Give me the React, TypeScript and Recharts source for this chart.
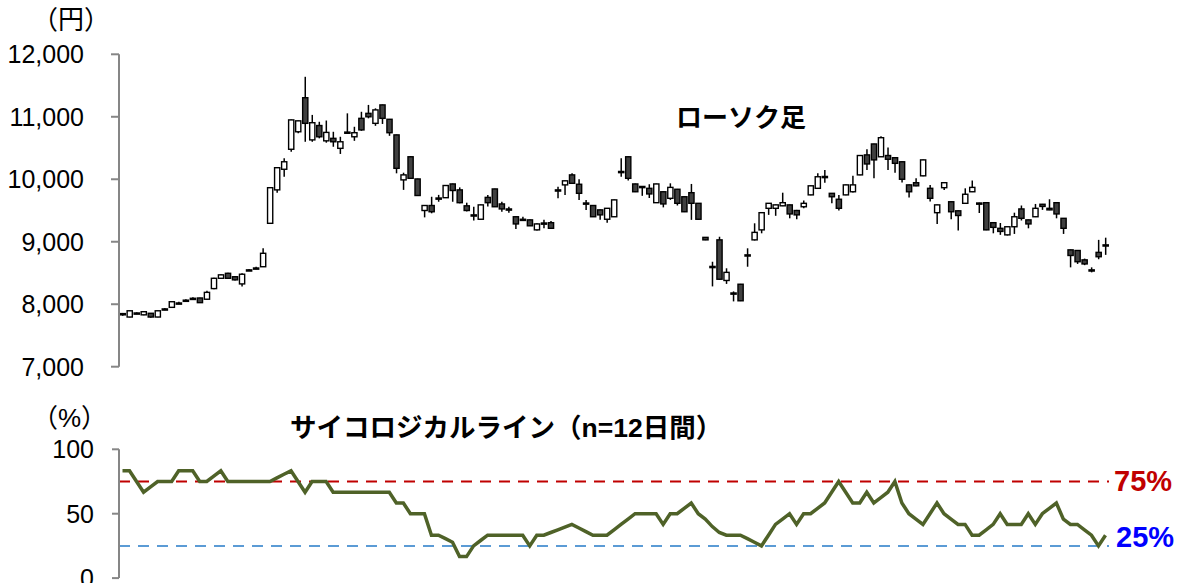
import { Bar, ComposedChart, Line, LineChart, ReferenceLine, XAxis, YAxis } from "recharts";

const FONT = "'Liberation Sans', 'Noto Sans CJK JP', sans-serif";

// daily candles (yen)
const opens = [
  7850, 7795, 7855, 7830, 7855, 7795, 7915, 7950, 8010, 8050, 8085, 8100, 8080, 8250, 8415, 8495, 8440, 8325, 8545, 8570,
  8600, 9295, 9830, 10160, 10480, 10760, 11305, 10630, 10860, 10615, 10655, 10495, 10745, 10680, 10975, 11055, 10895, 11190, 10960, 10710,
  9990, 10360, 10005, 9500, 9580, 9690, 9705, 9925, 9830, 9575, 9420, 9360, 9710, 9845, 9605, 9520, 9400, 9355, 9350, 9190,
  9290, 9305, 9825, 9910, 10070, 9920, 9615, 9580, 9510, 9360, 9400, 10120, 10360, 9925, 9880, 9855, 9625, 9800, 9695, 9840,
  9720, 9785, 9615, 9070, 8600, 9030, 8380, 8175, 8320, 8785, 9030, 9190, 9535, 9535, 9575, 9590, 9500, 9560, 9750, 9855,
  10040, 9775, 9680, 9750, 9800, 10070, 10390, 10565, 10360, 10380, 10345, 10280, 9910, 9945, 10055, 9855, 9465, 9865, 9640, 9495,
  9615, 9800, 9615, 9625, 9305, 9215, 9110, 9240, 9525, 9350, 9400, 9600, 9535, 9625, 9375, 8870, 8860, 8710, 8545, 8830,
  8945,
];
const highs = [
  7860, 7900, 7870, 7890, 7860, 7900, 7940, 8050, 8040, 8080, 8110, 8105, 8215, 8425, 8480, 8505, 8450, 8495, 8565, 8600,
  8895, 9870, 10190, 10335, 10955, 10940, 11640, 11030, 10920, 10940, 10760, 10680, 11055, 10840, 11080, 11190, 11135, 11195, 10965, 10715,
  10105, 10370, 10010, 9585, 9720, 9750, 9905, 9930, 9870, 9625, 9560, 9595, 9750, 9850, 9640, 9560, 9405, 9400, 9355, 9295,
  9350, 9330, 9880, 9980, 10095, 10000, 9670, 9585, 9515, 9540, 9675, 10335, 10365, 9930, 9890, 9920, 9930, 9805, 9935, 9845,
  9725, 9925, 9620, 9075, 8680, 9080, 8575, 8205, 8325, 8895, 9295, 9470, 9620, 9595, 9785, 9595, 9510, 9660, 9900, 10095,
  10150, 9780, 9750, 9915, 10055, 10385, 10480, 10570, 10690, 10510, 10350, 10285, 9915, 10015, 10315, 9910, 9595, 9950, 9645, 9500,
  9855, 9980, 9625, 9630, 9310, 9300, 9245, 9465, 9580, 9355, 9605, 9605, 9680, 9630, 9380, 8875, 8865, 8730, 8590, 9030,
  9065,
];
const lows = [
  7815, 7790, 7840, 7825, 7785, 7790, 7905, 7945, 8000, 8040, 8075, 8020, 8070, 8240, 8410, 8405, 8380, 8285, 8535, 8560,
  8595, 9290, 9785, 10040, 10440, 10735, 10600, 10600, 10655, 10585, 10520, 10405, 10725, 10615, 10775, 10975, 10855, 10885, 10695, 10095,
  9830, 10010, 9735, 9390, 9455, 9640, 9700, 9640, 9615, 9485, 9340, 9355, 9565, 9555, 9480, 9465, 9205, 9330, 9250, 9180,
  9215, 9210, 9695, 9750, 9930, 9670, 9510, 9395, 9350, 9305, 9395, 10040, 9980, 9795, 9735, 9700, 9620, 9550, 9670, 9580,
  9475, 9350, 9355, 9025, 8285, 8390, 8325, 8045, 8050, 8600, 9020, 9135, 9430, 9415, 9570, 9375, 9360, 9535, 9745, 9850,
  9945, 9615, 9500, 9745, 9790, 10065, 10150, 10015, 10355, 10150, 10105, 9950, 9710, 9890, 10050, 9645, 9285, 9830, 9360, 9180,
  9610, 9795, 9460, 9185, 9135, 9110, 9100, 9125, 9340, 9215, 9395, 9510, 9505, 9375, 9125, 8590, 8645, 8625, 8510, 8720,
  8790,
];
const closes = [
  7830, 7895, 7860, 7880, 7795, 7895, 7925, 8040, 8020, 8065, 8095, 8025, 8190, 8415, 8470, 8415, 8390, 8480, 8550, 8580,
  8815, 9865, 10185, 10280, 10950, 10935, 10895, 10905, 10680, 10750, 10600, 10600, 10755, 10745, 10790, 11000, 11110, 10975, 10745, 10175,
  10070, 10015, 9740, 9580, 9480, 9700, 9900, 9820, 9625, 9500, 9430, 9590, 9625, 9560, 9525, 9525, 9285, 9360, 9255, 9285,
  9300, 9215, 9830, 9975, 9935, 9775, 9620, 9400, 9430, 9535, 9670, 10125, 10015, 9800, 9885, 9765, 9925, 9605, 9870, 9615,
  9480, 9615, 9360, 9030, 8605, 8400, 8510, 8180, 8055, 8790, 9150, 9465, 9615, 9590, 9625, 9445, 9430, 9615, 9895, 10040,
  10045, 9720, 9535, 9910, 9910, 10380, 10245, 10310, 10665, 10320, 10255, 10000, 9800, 9895, 10310, 9695, 9590, 9945, 9480, 9420,
  9760, 9870, 9620, 9190, 9230, 9165, 9240, 9400, 9375, 9285, 9535, 9565, 9510, 9445, 9215, 8780, 8680, 8645, 8550, 8760,
  8950,
];

// psychological line (%), 12-day window
const psyLine = [
  83.3, 83.3, 75, 66.7, 70.8, 75, 75, 75, 83.3, 83.3, 83.3, 75, 75, 79.2, 83.3, 75, 75, 75, 75, 75,
  75, 75, 77.8, 80.6, 83.3, 75, 66.7, 75, 75, 75, 66.7, 66.7, 66.7, 66.7, 66.7, 66.7, 66.7, 66.7, 66.7, 58.3,
  58.3, 50, 50, 50, 33.3, 33.3, 30.6, 27.8, 16.7, 16.7, 25, 29.2, 33.3, 33.3, 33.3, 33.3, 33.3, 33.3, 25, 33.3,
  33.3, 35.4, 37.5, 39.6, 41.7, 38.9, 36.1, 33.3, 33.3, 33.3, 37.5, 41.7, 45.8, 50, 50, 50, 50, 41.7, 50, 50,
  54.2, 58.3, 50, 45.8, 40, 35.4, 33.3, 33.3, 33.3, 30.6, 27.8, 25, 33.3, 41.7, 45.8, 50, 41.7, 50, 50, 54.2,
  58.3, 66.7, 75, 66.7, 58.3, 58.3, 66.7, 58.3, 62.5, 66.7, 75, 58.3, 50, 45.8, 41.7, 50, 58.3, 50, 45.8, 41.7,
  41.7, 33.3, 33.3, 37.5, 41.7, 50, 41.7, 41.7, 41.7, 50, 41.7, 50, 54.2, 58.3, 45.8, 41.7, 41.7, 37.5, 33.3, 25,
  33.3,
];

const priceTicks = [7000, 8000, 9000, 10000, 11000, 12000];
const pctTicks = [0, 50, 100];

const candles = opens.map((o, i) => ({
  i,
  open: o,
  high: highs[i],
  low: lows[i],
  close: closes[i],
  range: [lows[i], highs[i]],
}));
const psyData = psyLine.map((v, i) => ({ i, v }));

function Candle(props: any) {
  const { x, y, width, height, payload } = props;
  if (payload == null) return null;
  const top = Math.min(y, y + height);
  const bot = Math.max(y, y + height);
  const { open, close, high, low } = payload;
  const toY = (v: number) => top + ((bot - top) * (high - v)) / (high - low);
  const cx = x + width / 2;
  const yo = toY(open);
  const yc = toY(close);
  const up = close >= open;
  const bTop = Math.min(yo, yc);
  const bH = Math.max(Math.abs(yc - yo), 1.2);
  return (
    <g>
      <line x1={cx} x2={cx} y1={top} y2={bot} stroke="#000" strokeWidth={1.5} />
      <rect x={cx - 2.6} y={bTop} width={5.2} height={bH} fill={up ? "#fff" : "#404040"} stroke="#000" strokeWidth={1.4} />
    </g>
  );
}

const axisStyle = { stroke: "#868686", strokeWidth: 2 };
const tickStyle = { fill: "#000", fontSize: 25, fontFamily: FONT };

function Label({ text, left, top, size, bold, color }: { text: string; left: number; top: number; size: number; bold?: boolean; color?: string }) {
  return (
    <div
      style={{
        position: "absolute",
        left,
        top: top - size / 2,
        fontSize: size,
        lineHeight: `${size}px`,
        fontWeight: bold ? 700 : 400,
        color: color ?? "#000",
        whiteSpace: "nowrap",
      }}
    >
      {text}
    </div>
  );
}

export default function App() {
  return (
    <div style={{ position: "absolute", left: 0, top: 0, width: 1182, height: 583, background: "#fff", fontFamily: FONT, overflow: "hidden" }}>
      <div style={{ position: "absolute", left: 0, top: 0 }}>
        <ComposedChart width={1182} height={380} data={candles} margin={{ top: 54.3, right: 73, bottom: 13.3, left: 0 }}>
          <XAxis dataKey="i" hide />
          <YAxis
            domain={[7000, 12000]}
            ticks={priceTicks}
            interval={0}
            width={119}
            axisLine={axisStyle}
            tickLine={axisStyle}
            tickSize={8}
            tickMargin={27}
            tick={tickStyle}
            tickFormatter={(v: number) => v.toLocaleString("en-US")}
          />
          <Bar dataKey="range" shape={(p: any) => <Candle {...p} />} isAnimationActive={false} />
        </ComposedChart>
      </div>
      <div style={{ position: "absolute", left: 0, top: 400 }}>
        <LineChart width={1182} height={183} data={psyData} margin={{ top: 49.3, right: 73, bottom: 4.9, left: 0 }}>
          <XAxis dataKey="i" hide padding={{ left: 3.5, right: 3.5 }} />
          <YAxis
            domain={[0, 100]}
            ticks={pctTicks}
            interval={0}
            width={119}
            axisLine={axisStyle}
            tickLine={axisStyle}
            tickSize={7}
            tickMargin={18}
            tick={tickStyle}
          />
          <ReferenceLine y={75} stroke="#C00000" strokeWidth={2} strokeDasharray="11 8" />
          <ReferenceLine y={25} stroke="#5B9BD5" strokeWidth={2} strokeDasharray="11 8" />
          <Line type="linear" dataKey="v" stroke="#4F6228" strokeWidth={3.5} dot={false} isAnimationActive={false} />
        </LineChart>
      </div>
      <Label text="（円）" left={32} top={20} size={26} />
      <Label text="ローソク足" left={676} top={118} size={26} bold />
      <Label text="（%）" left={32} top={418} size={26} />
      <Label text="サイコロジカルライン（n=12日間）" left={290} top={428} size={26.5} bold />
      <Label text="75%" left={1114} top={481} size={29} bold color="#C00000" />
      <Label text="25%" left={1116} top={537} size={29} bold color="#0000FF" />
    </div>
  );
}
